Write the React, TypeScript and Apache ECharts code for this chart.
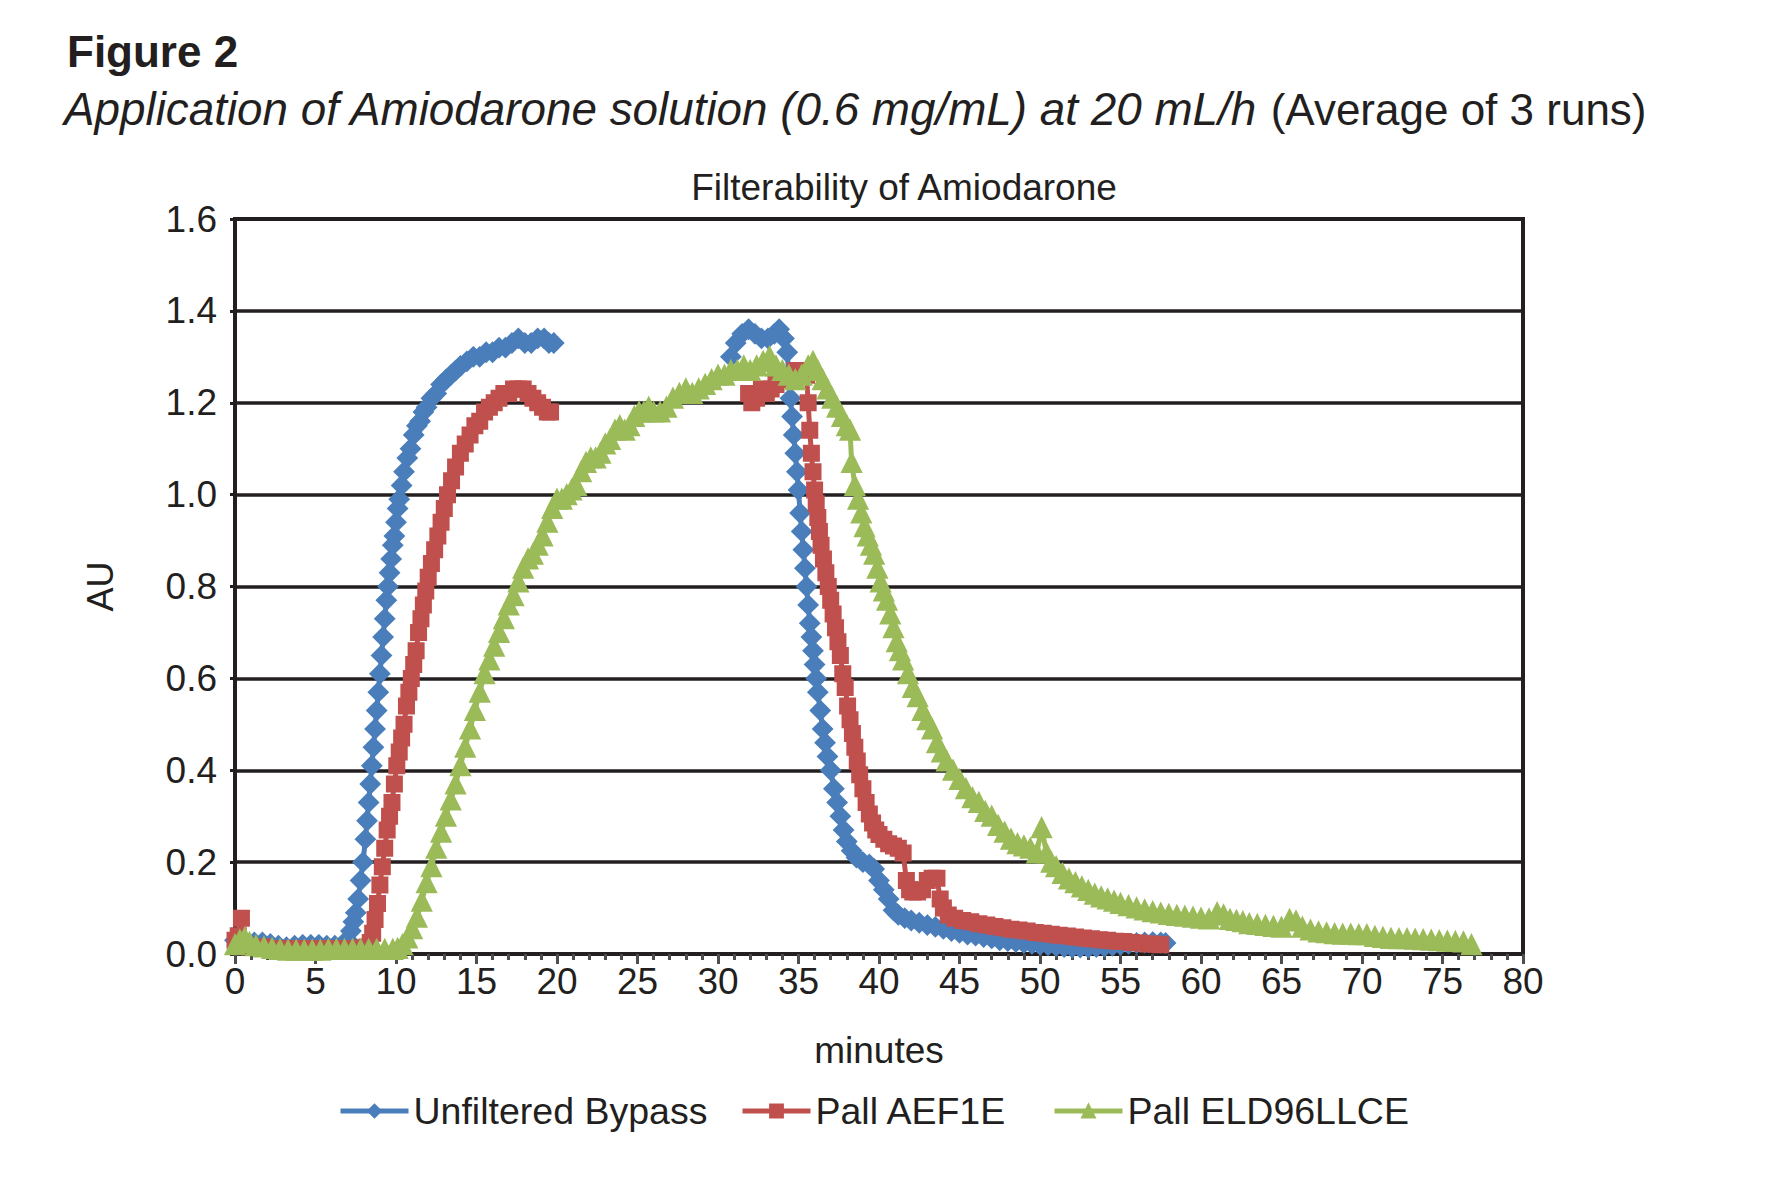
import React, { useEffect, useRef } from "react";
import * as echarts from "echarts";

const FONT = "'Liberation Sans', Arial, Helvetica, sans-serif";
const INK = "#231f20";

const seriesNames = ["Unfiltered Bypass", "Pall AEF1E", "Pall ELD96LLCE"];
const xTicks = [0, 5, 10, 15, 20, 25, 30, 35, 40, 45, 50, 55, 60, 65, 70, 75, 80];
const yTicks = [0, 0.2, 0.4, 0.6, 0.8, 1.0, 1.2, 1.4, 1.6];

// Unfiltered Bypass (minutes / AU); null = no data
const bypassMin = [
  0, 0.3, 0.7, 1.2, 1.7, 2.2, 2.7, 3.2, 3.7, 4.2,
  4.7, 5.2, 5.7, 6.2, 6.7, 7.0, 7.2, 7.35, 7.5, 7.65,
  7.8, 7.95, 8.1, 8.2, 8.3, 8.4, 8.5, 8.6, 8.7, 8.8,
  8.9, 9.0, 9.1, 9.2, 9.3, 9.4, 9.5, 9.6, 9.7, 9.8,
  9.9, 10.0, 10.1, 10.2, 10.35, 10.5, 10.7, 10.9, 11.1, 11.3,
  11.5, 11.7, 11.9, 12.2, 12.5, 12.8, 13.1, 13.4, 13.7, 14.0,
  14.4, 14.8, 15.2, 15.6, 16.0, 16.4, 16.8, 17.2, 17.6, 18.0,
  18.4, 18.8, 19.2, 19.5, 19.8,
  25,
  30.8, 31.1, 31.5, 31.9, 32.3, 32.7, 33.1, 33.5, 33.8, 34.1,
  34.3, 34.4, 34.5, 34.6, 34.7, 34.8, 34.9, 35.0, 35.1, 35.2,
  35.3, 35.4, 35.5, 35.6, 35.7, 35.8, 35.9, 36.0, 36.1, 36.2,
  36.35, 36.5, 36.65, 36.8, 37.0, 37.2, 37.4, 37.6, 37.8, 38.0,
  38.3, 38.6, 39.0, 39.4, 39.7, 40.0, 40.3, 40.6, 40.9, 41.2,
  41.6, 42.0, 42.5, 43.0, 43.5, 44.0, 44.5, 45.0, 45.5, 46.0,
  46.5, 47.0, 47.5, 48.0, 48.5, 49.0, 49.5, 50.0, 50.5, 51.0,
  51.5, 52.0, 52.5, 53.0, 53.5, 54.0, 54.5, 55.0, 55.5, 56.0,
  56.5, 57.0, 57.5, 57.8,
];
const bypassAU = [
  0.03, 0.025, 0.025, 0.025, 0.025, 0.022, 0.018, 0.015, 0.018, 0.02,
  0.02, 0.02, 0.018, 0.018, 0.022, 0.03, 0.05, 0.07, 0.09, 0.12,
  0.16, 0.2, 0.25, 0.29, 0.33, 0.37, 0.41, 0.45, 0.49, 0.53,
  0.57, 0.61, 0.65, 0.69, 0.73, 0.77, 0.8, 0.83, 0.86, 0.89,
  0.91, 0.94, 0.97, 0.99, 1.02, 1.05, 1.08, 1.1, 1.13, 1.15,
  1.16, 1.18, 1.19, 1.21, 1.22, 1.24, 1.25, 1.26, 1.27, 1.28,
  1.29, 1.3, 1.3, 1.31, 1.31, 1.32, 1.32, 1.33, 1.34, 1.33,
  1.33, 1.34, 1.34, 1.33, 1.33,
  null,
  1.3, 1.33, 1.35, 1.36, 1.35, 1.34, 1.34, 1.35, 1.36, 1.34,
  1.31, 1.26, 1.21, 1.17, 1.13, 1.09, 1.05, 1.01, 0.96, 0.92,
  0.88, 0.84, 0.8, 0.76, 0.72, 0.69, 0.66, 0.63, 0.6, 0.57,
  0.53, 0.49, 0.46, 0.43, 0.4, 0.36, 0.33, 0.3, 0.27, 0.245,
  0.225, 0.21, 0.2, 0.195, 0.185, 0.16, 0.14, 0.12, 0.095, 0.085,
  0.078, 0.073, 0.068, 0.063, 0.059, 0.055, 0.05, 0.046, 0.042, 0.04,
  0.037, 0.034, 0.03, 0.028, 0.026, 0.024, 0.022, 0.02, 0.019, 0.017,
  0.015, 0.014, 0.014, 0.014, 0.015, 0.016, 0.018, 0.02, 0.022, 0.024,
  0.025, 0.026, 0.025, 0.024,
];

// Pall AEF1E
const aefMin = [
  0, 0.2, 0.4, 0.6, 0.9, 1.3, 1.8, 2.3, 2.8, 3.3,
  3.8, 4.3, 4.8, 5.3, 5.8, 6.3, 6.8, 7.3, 7.8, 8.2,
  8.4, 8.55, 8.7, 8.85, 9.0, 9.15, 9.3, 9.45, 9.6, 9.75,
  9.9, 10.05, 10.2, 10.35, 10.5, 10.65, 10.8, 10.95, 11.1, 11.25,
  11.4, 11.55, 11.7, 11.85, 12.0, 12.2, 12.4, 12.6, 12.8, 13.0,
  13.2, 13.45, 13.7, 14.0, 14.3, 14.6, 14.9, 15.2, 15.5, 15.8,
  16.1, 16.4, 16.7, 17.0, 17.3, 17.6, 17.9, 18.2, 18.5, 18.8,
  19.1, 19.4, 19.6,
  25,
  31.9, 32.1, 32.4, 32.7, 33.0, 33.3, 33.6, 34.0, 34.4, 34.8,
  35.2, 35.5, 35.6, 35.7, 35.8, 35.9, 36.0, 36.1, 36.2, 36.3,
  36.4, 36.55, 36.7, 36.85, 37.0, 37.15, 37.3, 37.45, 37.6, 37.75,
  37.9, 38.05, 38.2, 38.35, 38.5, 38.65, 38.8, 39.0, 39.2, 39.4,
  39.6, 39.8, 40.0, 40.3, 40.6, 40.9, 41.2, 41.5, 41.7, 41.9,
  42.1, 42.4, 42.7, 43.0, 43.3, 43.6, 43.8, 44.0, 44.3, 44.7,
  45.2, 45.7, 46.2, 46.7, 47.2, 47.7, 48.2, 48.7, 49.2, 49.7,
  50.2, 50.7, 51.2, 51.7, 52.2, 52.7, 53.2, 53.7, 54.2, 54.7,
  55.2, 55.7, 56.2, 56.7, 57.2, 57.5,
];
const aefAU = [
  0.03, 0.04, 0.078, 0.02, 0.015, 0.015, 0.015, 0.012, 0.012, 0.012,
  0.012, 0.012, 0.012, 0.012, 0.012, 0.012, 0.012, 0.012, 0.013, 0.015,
  0.025, 0.045, 0.075, 0.11, 0.15, 0.19, 0.23, 0.27, 0.3, 0.33,
  0.37, 0.41, 0.44, 0.47, 0.5, 0.54, 0.57, 0.6, 0.63, 0.66,
  0.7, 0.73, 0.76, 0.79, 0.82, 0.85, 0.88, 0.91, 0.94, 0.97,
  1.0, 1.03, 1.06, 1.09, 1.11, 1.13, 1.15, 1.16, 1.18, 1.19,
  1.2, 1.21, 1.22, 1.22, 1.23, 1.23, 1.23, 1.22, 1.21, 1.2,
  1.19, 1.18, 1.18,
  null,
  1.22, 1.2, 1.21, 1.23, 1.22, 1.23, 1.24, 1.25, 1.26, 1.27,
  1.27, 1.26, 1.2, 1.14, 1.09, 1.05, 1.01, 0.98, 0.95, 0.92,
  0.89, 0.86, 0.83, 0.8, 0.77, 0.74, 0.71, 0.68, 0.65, 0.61,
  0.58, 0.54, 0.51, 0.48, 0.45, 0.42, 0.39, 0.36, 0.33, 0.305,
  0.285, 0.27, 0.26, 0.25, 0.24, 0.235, 0.23, 0.22, 0.16, 0.14,
  0.135, 0.135, 0.14, 0.16, 0.165, 0.165, 0.12, 0.1, 0.085, 0.078,
  0.073, 0.07, 0.066, 0.063, 0.06, 0.057, 0.054, 0.052, 0.05, 0.047,
  0.045, 0.043, 0.041, 0.039, 0.037, 0.035, 0.033, 0.031, 0.03, 0.028,
  0.027, 0.025, 0.024, 0.022, 0.021, 0.02,
];

// Pall ELD96LLCE
const eldMin = [
  0, 0.3, 0.6, 0.9, 1.3, 1.8, 2.3, 2.8, 3.3, 3.8,
  4.3, 4.8, 5.3, 5.8, 6.3, 6.8, 7.3, 7.8, 8.3, 8.8,
  9.3, 9.8, 10.1, 10.4, 10.7, 11.0, 11.3, 11.6, 11.9, 12.2,
  12.5, 12.8, 13.1, 13.4, 13.7, 14.0, 14.3, 14.6, 14.9, 15.2,
  15.5, 15.8, 16.1, 16.4, 16.7, 17.0, 17.3, 17.6, 17.9, 18.2,
  18.5, 18.8, 19.1, 19.4, 19.7, 20.0, 20.3, 20.6, 20.9, 21.2,
  21.5, 21.8, 22.1, 22.4, 22.7, 23.0, 23.3, 23.6, 23.9, 24.2,
  24.5, 24.8, 25.1, 25.4, 25.7, 26.0, 26.4, 26.8, 27.2, 27.6,
  28.0, 28.4, 28.8, 29.2, 29.6, 30.0, 30.4, 30.8, 31.2, 31.6,
  32.0, 32.4, 32.8, 33.2, 33.6, 34.0, 34.4, 34.8, 35.2, 35.6,
  35.9, 36.2, 36.5, 36.8, 37.1, 37.4, 37.7, 38.0, 38.2, 38.3,
  38.5, 38.7, 38.9, 39.1, 39.3, 39.5, 39.7, 39.9, 40.1, 40.3,
  40.5, 40.7, 40.9, 41.1, 41.3, 41.5, 41.8, 42.1, 42.4, 42.7,
  43.0, 43.3, 43.6, 43.9, 44.2, 44.6, 45.0, 45.4, 45.8, 46.2,
  46.6, 47.0, 47.4, 47.8, 48.2, 48.6, 49.0, 49.4, 49.8, 50.1,
  50.4, 50.7, 51.0, 51.4, 51.8, 52.2, 52.6, 53.0, 53.4, 53.8,
  54.2, 54.6, 55.0, 55.5, 56.0, 56.5, 57.0, 57.5, 58.0, 58.5,
  59.0, 59.5, 60.0, 60.5, 61.0, 61.4, 61.8, 62.2, 62.6, 63.0,
  63.5, 64.0, 64.5, 65.0, 65.5, 65.9, 66.3, 66.8, 67.3, 67.8,
  68.3, 68.8, 69.3, 69.8, 70.3, 70.8, 71.3, 71.8, 72.3, 72.8,
  73.3, 73.8, 74.3, 74.8, 75.3, 75.8, 76.3, 76.8,
];
const eldAU = [
  0.02, 0.03, 0.035, 0.025, 0.018, 0.015, 0.012, 0.01, 0.008, 0.008,
  0.008, 0.008, 0.008, 0.01, 0.01, 0.01, 0.01, 0.01, 0.01, 0.01,
  0.01, 0.01, 0.012, 0.02, 0.035, 0.055, 0.08, 0.115, 0.155, 0.19,
  0.23, 0.265, 0.3, 0.335, 0.37, 0.41, 0.45, 0.49, 0.53, 0.57,
  0.61, 0.64, 0.67, 0.7, 0.73, 0.76, 0.78, 0.81, 0.84, 0.86,
  0.87, 0.89, 0.91, 0.94, 0.97, 0.99, 0.99, 1.0, 1.01, 1.02,
  1.05, 1.07, 1.08, 1.08, 1.09, 1.11, 1.12, 1.14, 1.15, 1.14,
  1.15, 1.17, 1.18, 1.18, 1.19, 1.18, 1.18, 1.19, 1.21, 1.22,
  1.23, 1.22, 1.23, 1.24, 1.25, 1.26, 1.26, 1.27, 1.27, 1.28,
  1.27, 1.28, 1.29, 1.3, 1.28, 1.27, 1.26, 1.25, 1.26, 1.28,
  1.29, 1.27, 1.25, 1.23, 1.21, 1.19, 1.17, 1.15, 1.14, 1.07,
  1.02, 0.99, 0.96, 0.93, 0.91, 0.89, 0.87, 0.84, 0.81, 0.79,
  0.77, 0.74, 0.71, 0.68, 0.66, 0.64, 0.61, 0.58, 0.56, 0.53,
  0.51, 0.49, 0.46, 0.44, 0.42, 0.4, 0.38, 0.36, 0.34, 0.33,
  0.31, 0.3, 0.28, 0.265, 0.25, 0.24, 0.235, 0.23, 0.22, 0.275,
  0.22, 0.2, 0.19, 0.175, 0.163, 0.155, 0.146, 0.138, 0.13, 0.124,
  0.12, 0.115, 0.11, 0.105, 0.1, 0.096, 0.092, 0.089, 0.086, 0.084,
  0.082, 0.08, 0.078, 0.076, 0.09, 0.085, 0.075, 0.073, 0.07, 0.066,
  0.064, 0.062, 0.06, 0.058, 0.075, 0.072, 0.058, 0.052, 0.048, 0.046,
  0.044, 0.043, 0.043, 0.042, 0.042, 0.038, 0.036, 0.034, 0.033, 0.033,
  0.032, 0.031, 0.03, 0.029, 0.028, 0.027, 0.026, 0.02,
];

const pairs = (t: number[], v: (number | null)[]) =>
  t.map((x, i) => [x, v[i] === null || v[i] === undefined ? "-" : v[i]]);

const legendLefts = [338, 740, 1052];

export default function App() {
  const ref = useRef<HTMLDivElement>(null);

  useEffect(() => {
    if (!ref.current) return;
    const chart = echarts.init(ref.current, null, { renderer: "svg" });

    const mk = (name: string, color: string, symbol: string, size: number, data: any[]) => ({
      name,
      type: "line",
      data,
      symbol,
      symbolSize: size,
      showSymbol: true,
      showAllSymbol: true,
      connectNulls: false,
      lineStyle: { color, width: 5 },
      itemStyle: { color, borderColor: color, borderWidth: 2 },
      emphasis: { disabled: true },
      z: 3,
    });

    chart.setOption({
      animation: false,
      backgroundColor: "#ffffff",
      textStyle: { fontFamily: FONT, color: INK },
      graphic: [
        {
          type: "text",
          x: 67,
          y: 51,
          style: {
            text: "Figure 2",
            font: `bold 44px ${FONT}`,
            fill: INK,
            textAlign: "left",
            textVerticalAlign: "middle",
          },
        },
        {
          type: "text",
          x: 64,
          y: 109,
          style: {
            text: "{i|Application of Amiodarone solution (0.6 mg/mL) at 20 mL/h}{s| }{n|(Average of 3 runs)}",
            fill: INK,
            textAlign: "left",
            textVerticalAlign: "middle",
            rich: {
              i: { fontStyle: "italic", fontSize: 45.8, fontFamily: FONT, fill: INK },
              s: { fontSize: 46, fontFamily: FONT, fill: INK },
              n: { fontSize: 44, fontFamily: FONT, fill: INK },
            },
          },
        },
        {
          type: "text",
          x: 904,
          y: 187,
          style: {
            text: "Filterability of Amiodarone",
            font: `37px ${FONT}`,
            fill: INK,
            textAlign: "center",
            textVerticalAlign: "middle",
          },
        },
      ],
      grid: {
        left: 235,
        top: 219,
        width: 1288,
        height: 735,
        show: true,
        borderColor: INK,
        borderWidth: 4,
        backgroundColor: "transparent",
      },
      legend: seriesNames.map((n, i) => ({
        data: [n],
        left: legendLefts[i],
        top: 1092,
        padding: 0,
        itemWidth: 68,
        itemHeight: 16,
        lineStyle: { width: 5 },
        textStyle: { fontSize: 37.5, fontFamily: FONT, color: INK },
        selectedMode: false,
      })),
      xAxis: {
        type: "value",
        min: xTicks[0],
        max: xTicks[xTicks.length - 1],
        interval: 5,
        name: "minutes",
        nameLocation: "middle",
        nameGap: 78,
        nameTextStyle: { fontSize: 37, fontFamily: FONT, color: INK },
        axisLine: { show: true, onZero: false, lineStyle: { color: INK, width: 4 } },
        axisTick: { show: true, length: 10, lineStyle: { color: "#4d4d4d", width: 3 } },
        minorTick: { show: true, splitNumber: 5, length: 6, lineStyle: { color: "#4d4d4d", width: 3 } },
        splitLine: { show: false },
        axisLabel: {
          fontSize: 37,
          fontFamily: FONT,
          color: INK,
          margin: 9,
          formatter: (v: number) => (xTicks.includes(v) ? String(v) : ""),
        },
      },
      yAxis: {
        type: "value",
        min: yTicks[0],
        max: yTicks[yTicks.length - 1],
        interval: 0.2,
        name: "AU",
        nameLocation: "middle",
        nameRotate: 90,
        nameGap: 117,
        nameTextStyle: { fontSize: 36, fontFamily: FONT, color: INK },
        axisLine: { show: true, lineStyle: { color: INK, width: 4 } },
        axisTick: { show: true, length: 5, lineStyle: { color: INK, width: 3 } },
        splitLine: { show: true, lineStyle: { color: INK, width: 3.5 } },
        axisLabel: {
          fontSize: 37,
          fontFamily: FONT,
          color: INK,
          margin: 18,
          formatter: (v: number) => v.toFixed(1),
        },
      },
      series: [
        mk(seriesNames[0], "#4a7ebb", "diamond", 19, pairs(bypassMin, bypassAU)),
        mk(seriesNames[1], "#c0504d", "rect", 15, pairs(aefMin, aefAU)),
        mk(seriesNames[2], "#9bbb59", "triangle", 19, pairs(eldMin, eldAU)),
      ],
    });

    return () => chart.dispose();
  }, []);

  return (
    <div
      ref={ref}
      style={{ position: "fixed", left: 0, top: 0, width: 1778, height: 1194, background: "#fff" }}
    />
  );
}
